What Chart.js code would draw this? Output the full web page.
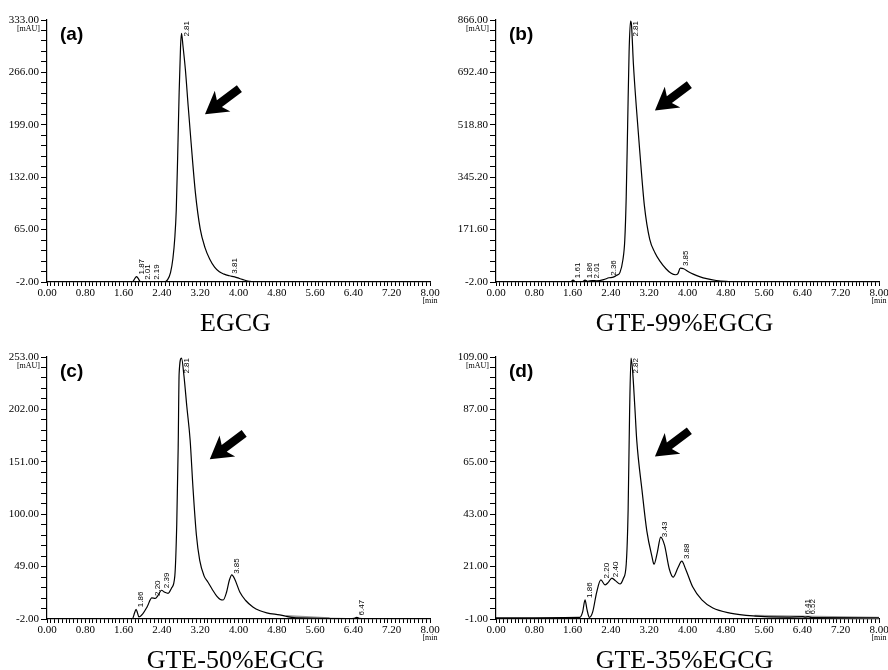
<!DOCTYPE html>
<html>
<head>
<meta charset="utf-8">
<script src="https://cdn.jsdelivr.net/npm/chart.js@4.4.0/dist/chart.umd.min.js"></script>
<style>
html, body { margin: 0; padding: 0; background: #fff; }
#wrap { position: relative; width: 888px; height: 670px; overflow: hidden; }
.panel { position: absolute; width: 444px; height: 335px; }
</style>
</head>
<body>
<div id="wrap">
  <div class="panel" style="left:0;top:0"><canvas id="chartA" width="444" height="335"></canvas></div>
  <div class="panel" style="left:444px;top:0"><canvas id="chartB" width="444" height="335"></canvas></div>
  <div class="panel" style="left:0;top:335px"><canvas id="chartC" width="444" height="335"></canvas></div>
  <div class="panel" style="left:444px;top:335px"><canvas id="chartD" width="444" height="335"></canvas></div>
</div>
<script>
// shared time axis (min)
const xTicks = [0, 0.8, 1.6, 2.4, 3.2, 4.0, 4.8, 5.6, 6.4, 7.2, 8.0];

// (a) EGCG
const timeA = [0, 1.78, 1.84, 1.87, 1.90, 1.95, 2.01, 2.10, 2.19, 2.30, 2.45, 2.52, 2.58, 2.63, 2.67, 2.70, 2.73, 2.76, 2.79, 2.81, 2.84, 2.89, 2.95, 3.01, 3.10, 3.20, 3.30, 3.40, 3.50, 3.60, 3.70, 3.81, 3.92, 4.02, 4.12, 4.22, 4.32, 5.0, 6.0, 7.0, 8.0];
const sigA = [-2, -2, 3, 5, 3, -1.5, -1.8, -2, -1.8, -2, -2, 1, 10, 28, 55, 90, 160, 240, 300, 316, 300, 270, 222, 176, 112, 66, 42, 27, 17, 11, 8, 6, 4.5, 2.5, 0.5, -1, -2, -2, -2, -2, -2];
const peaksA = [1.87, 2.01, 2.19, 2.81, 3.81];
const yTicksA = [-2, 65, 132, 199, 266, 333];

// (b) GTE-99%EGCG
const timeB = [0, 1.55, 1.61, 1.66, 1.80, 1.86, 1.92, 2.01, 2.10, 2.25, 2.36, 2.45, 2.52, 2.59, 2.65, 2.69, 2.72, 2.75, 2.78, 2.81, 2.83, 2.87, 2.93, 3.00, 3.10, 3.21, 3.32, 3.42, 3.55, 3.65, 3.75, 3.80, 3.85, 3.92, 4.02, 4.12, 4.25, 4.40, 4.60, 4.80, 5.2, 6.0, 8.0];
const sigB = [-2, -2, 4, -1, -1, 4, 0, 3, 2, 6, 12, 14, 20, 30, 71, 137, 280, 520, 760, 862, 850, 720, 580, 437, 250, 140, 95, 68, 42, 28, 22, 26, 44, 42, 32, 24, 16, 9, 3, 0, -1.5, -2, -2];
const peaksB = [1.61, 1.86, 2.01, 2.36, 2.81, 3.85];
const yTicksB = [-2, 171.6, 345.2, 518.8, 692.4, 866];

// (c) GTE-50%EGCG
const timeC = [0, 1.78, 1.83, 1.86, 1.89, 1.92, 2.00, 2.09, 2.19, 2.26, 2.32, 2.39, 2.46, 2.53, 2.60, 2.67, 2.71, 2.74, 2.76, 2.81, 2.86, 2.92, 2.99, 3.05, 3.12, 3.19, 3.28, 3.36, 3.45, 3.55, 3.62, 3.68, 3.75, 3.81, 3.86, 3.92, 4.03, 4.15, 4.30, 4.45, 4.59, 4.86, 5.2, 6.3, 6.42, 6.47, 6.52, 6.65, 8.0];
const sigC = [-2, -2, 4, 7.5, 4, 0, 3, 9.7, 18.5, 18, 21, 26, 24, 23, 28, 40, 90, 165, 237, 252, 235, 205, 172, 125, 80, 55, 40, 34, 27, 20, 17, 16.5, 24, 36, 41, 37, 24, 16, 9.7, 6, 4, 2, -1, -1.5, -1.3, -0.5, -1.3, -1.8, -2];
const peaksC = [1.86, 2.20, 2.39, 2.81, 3.85, 6.47];
const yTicksC = [-2, 49, 100, 151, 202, 253];
const baseTimeC = [5.0, 5.9];

// (d) GTE-35%EGCG
const timeD = [0, 1.75, 1.81, 1.86, 1.90, 1.95, 2.02, 2.10, 2.19, 2.28, 2.35, 2.42, 2.50, 2.59, 2.66, 2.72, 2.76, 2.79, 2.82, 2.85, 2.90, 2.94, 3.05, 3.15, 3.26, 3.30, 3.37, 3.44, 3.52, 3.62, 3.70, 3.80, 3.88, 3.96, 4.11, 4.30, 4.53, 4.89, 5.37, 6.07, 6.41, 6.46, 6.52, 6.60, 8.0];
const sigD = [-0.5, -0.3, 2, 7, 3, -0.3, 2, 10, 15.4, 13.3, 14.5, 16.2, 15, 13.7, 16, 22, 45, 85, 108.5, 104, 88, 74, 53, 36, 25, 22, 27, 33.4, 30, 20, 16.6, 20.5, 23.3, 20, 12.4, 7, 3.6, 1.5, 0.3, -0.2, 0, -0.2, 0, -0.4, -0.5];
const peaksD = [1.86, 2.20, 2.40, 2.82, 3.43, 3.88, 6.41, 6.52];
const yTicksD = [-1, 21, 43, 65, 87, 109];
const baseTimeD = [5.4, 8.0];

function valueAt(ts, vs, t) {
    for (let i = 1; i < ts.length; i++) {
        if (t <= ts[i]) {
            const f = (t - ts[i - 1]) / (ts[i] - ts[i - 1]);
            return vs[i - 1] + f * (vs[i] - vs[i - 1]);
        }
    }
    return vs[vs.length - 1];
}

// main ticks get a label, the ones in between are just marks
function withMinor(major, parts) {
    const out = [];
    for (let i = 0; i < major.length - 1; i++) {
        const step = (major[i + 1] - major[i]) / parts;
        for (let k = 0; k < parts; k++) {
            out.push({ value: major[i] + k * step, lab: k === 0 });
        }
    }
    out.push({ value: major[major.length - 1], lab: true });
    return out;
}

const annoPlugin = {
    id: 'anno',
    afterDatasetsDraw(chart, args, opts) {
        const ctx = chart.ctx;
        const xs = chart.scales.x, ys = chart.scales.y, area = chart.chartArea;
        ctx.save();
        ctx.fillStyle = '#000';

        // retention time labels, rotated
        ctx.font = '8px "Liberation Sans"';
        opts.peaks.forEach(rt => {
            const txt = rt.toFixed(2);
            const w = ctx.measureText(txt).width;
            let bottom = ys.getPixelForValue(valueAt(opts.time, opts.signal, rt)) - 2;
            if (bottom - w < area.top + 1) bottom = area.top + 1 + w;
            ctx.save();
            ctx.translate(xs.getPixelForValue(rt) + 5, bottom);
            ctx.rotate(-Math.PI / 2);
            ctx.textAlign = 'left';
            ctx.textBaseline = 'middle';
            ctx.fillText(txt, 0, 0);
            ctx.restore();
        });

        // units
        ctx.font = '8px "Liberation Serif"';
        ctx.textBaseline = 'middle';
        ctx.textAlign = 'right';
        ctx.fillText('[mAU]', area.left - 7, area.top + 9);
        ctx.textAlign = 'center';
        ctx.fillText('[min', area.right, area.bottom + 19);

        // panel letter
        ctx.font = 'bold 19px "Liberation Sans"';
        ctx.textAlign = 'left';
        ctx.textBaseline = 'alphabetic';
        ctx.fillText(opts.letter, area.left + 13, area.top + 20);

        // caption under the plot
        ctx.font = '26px "Liberation Serif"';
        ctx.textAlign = 'center';
        ctx.fillText(opts.caption, (area.left + area.right) / 2 - 3, area.bottom + 49);

        // arrow pointing at the EGCG peak
        const tx = xs.getPixelForValue(opts.arrow[0]);
        const ty = area.top + opts.arrow[1] * (area.bottom - area.top);
        const ux = 0.8, uy = -0.6, nx = 0.6, ny = 0.8;
        const hl = 18, hw = 13, sw = 4.2, len = 43, notch = 4;
        ctx.beginPath();
        ctx.moveTo(tx, ty);
        ctx.lineTo(tx + ux * (hl + notch) + nx * hw, ty + uy * (hl + notch) + ny * hw);
        ctx.lineTo(tx + ux * hl + nx * sw, ty + uy * hl + ny * sw);
        ctx.lineTo(tx + ux * len + nx * sw, ty + uy * len + ny * sw);
        ctx.lineTo(tx + ux * len - nx * sw, ty + uy * len - ny * sw);
        ctx.lineTo(tx + ux * hl - nx * sw, ty + uy * hl - ny * sw);
        ctx.lineTo(tx + ux * (hl + notch) - nx * hw, ty + uy * (hl + notch) - ny * hw);
        ctx.closePath();
        ctx.fill();
        ctx.restore();
    }
};

function paintPanel(id, p) {
    const pts = p.time.map((t, i) => ({ x: t, y: p.signal[i] }));
    const datasets = [{
        data: pts,
        borderColor: '#000',
        borderWidth: 1.2,
        pointRadius: 0,
        fill: false,
        cubicInterpolationMode: 'monotone'
    }];
    if (p.base) {
        datasets.push({
            data: p.base.map(t => ({ x: t, y: valueAt(p.time, p.signal, t) })),
            borderColor: '#9a9a9a',
            borderWidth: 2.2,
            pointRadius: 0,
            fill: false
        });
    }
    const tickFont = { family: 'Liberation Serif', size: 11 };
    return new Chart(document.getElementById(id), {
        type: 'line',
        data: { datasets: datasets },
        plugins: [annoPlugin],
        options: {
            responsive: false,
            animation: false,
            events: [],
            layout: { padding: { top: p.top, right: p.right, bottom: 0, left: 0 } },
            plugins: {
                legend: { display: false },
                tooltip: { enabled: false },
                anno: {
                    time: p.time, signal: p.signal, peaks: p.peaks,
                    letter: p.letter, caption: p.caption, arrow: p.arrow
                }
            },
            scales: {
                x: {
                    type: 'linear',
                    min: 0,
                    max: 8,
                    afterBuildTicks: s => { s.ticks = withMinor(xTicks, 10); },
                    afterFit: s => { s.height = p.xh; s.paddingLeft = 0; s.paddingRight = 0; },
                    border: { display: true, color: '#000', width: 1.2 },
                    grid: { drawOnChartArea: false, drawTicks: true, tickLength: 4, tickColor: '#000', tickWidth: 1 },
                    ticks: {
                        autoSkip: false, maxRotation: 0, padding: 1, color: '#000', font: tickFont,
                        callback: (v, i, ticks) => ticks[i].lab ? v.toFixed(2) : ''
                    }
                },
                y: {
                    type: 'linear',
                    min: p.yTicks[0],
                    max: p.yTicks[p.yTicks.length - 1],
                    afterBuildTicks: s => { s.ticks = withMinor(p.yTicks, 5); },
                    afterFit: s => { s.width = p.yw; s.paddingTop = 0; s.paddingBottom = 0; },
                    border: { display: true, color: '#000', width: 1.2 },
                    grid: { drawOnChartArea: false, drawTicks: true, tickLength: 6, tickColor: '#000', tickWidth: 1 },
                    ticks: {
                        autoSkip: false, padding: 2, color: '#000', font: tickFont,
                        callback: (v, i, ticks) => ticks[i].lab ? v.toFixed(2) : ''
                    }
                }
            }
        }
    });
}

paintPanel('chartA', { time: timeA, signal: sigA, peaks: peaksA, yTicks: yTicksA, letter: '(a)', caption: 'EGCG', arrow: [3.30, 0.36], top: 20, right: 14, xh: 53, yw: 47 });
paintPanel('chartB', { time: timeB, signal: sigB, peaks: peaksB, yTicks: yTicksB, letter: '(b)', caption: 'GTE-99%EGCG', arrow: [3.32, 0.345], top: 20, right: 9, xh: 53, yw: 52 });
paintPanel('chartC', { time: timeC, signal: sigC, peaks: peaksC, yTicks: yTicksC, letter: '(c)', caption: 'GTE-50%EGCG', arrow: [3.40, 0.39], top: 22, right: 14, xh: 51, yw: 47, base: baseTimeC });
paintPanel('chartD', { time: timeD, signal: sigD, peaks: peaksD, yTicks: yTicksD, letter: '(d)', caption: 'GTE-35%EGCG', arrow: [3.32, 0.38], top: 22, right: 9, xh: 51, yw: 52, base: baseTimeD });
</script>
</body>
</html>
